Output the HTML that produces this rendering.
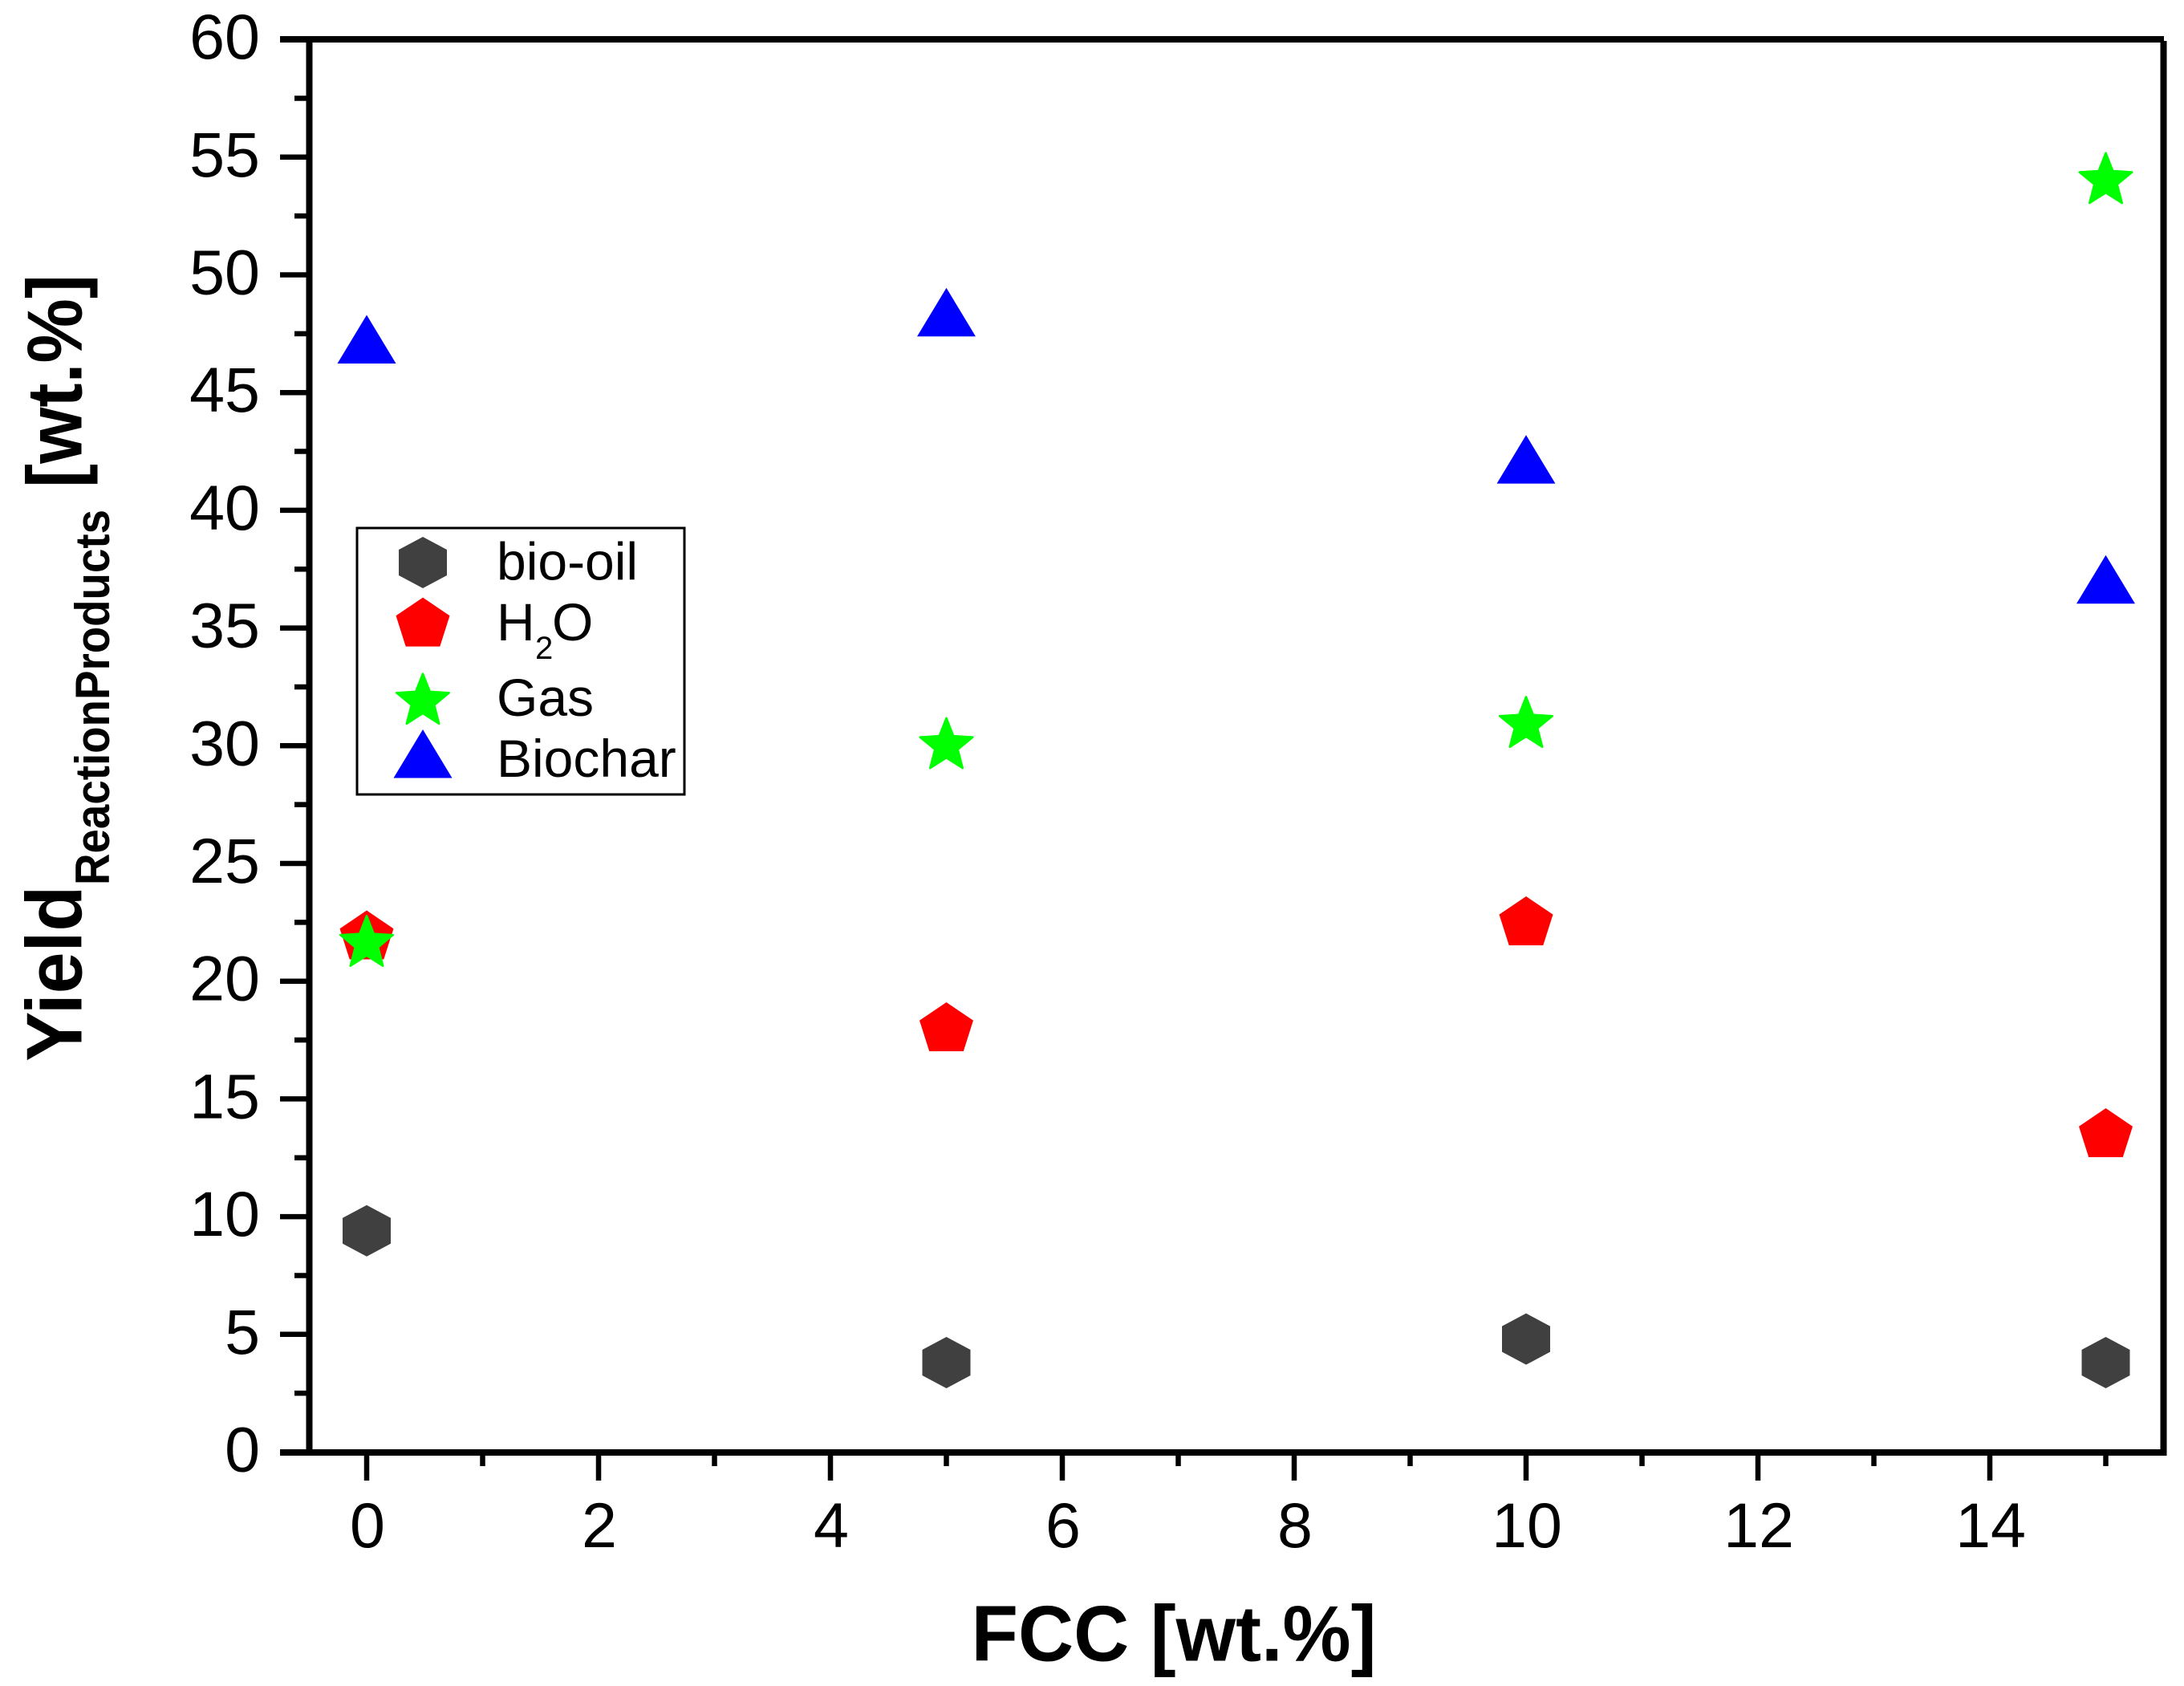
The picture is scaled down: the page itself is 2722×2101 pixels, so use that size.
<!DOCTYPE html>
<html lang="en">
<head>
<meta charset="utf-8">
<title>Yield of reaction products vs FCC</title>
<style>
html,body{margin:0;padding:0;background:#fff;}
svg{display:block;}
text{font-family:"Liberation Sans",sans-serif;fill:#000;}
</style>
</head>
<body>
<svg id="chart" xmlns="http://www.w3.org/2000/svg" width="2722" height="2101" viewBox="0 0 2722 2101">
  <rect x="0" y="0" width="2722" height="2101" fill="#ffffff"/>
  <g id="ticks"></g>
  <g id="frame" stroke="#000" stroke-width="8" fill="none">
    <line x1="349" y1="49" x2="2697" y2="49"/>
    <line x1="385.5" y1="45" x2="385.5" y2="1814"/>
    <line x1="349" y1="1810" x2="2700" y2="1810"/>
    <line x1="2696.5" y1="51" x2="2696.5" y2="1814"/>
  </g>
  <g id="marks"></g>
  <g id="tick-labels"></g>

  <text x="1210.5" y="2069.5" font-size="98" font-weight="700" textLength="505" lengthAdjust="spacingAndGlyphs">FCC [wt.%]</text>
  <g>
    <text transform="translate(101.7 1322.7) rotate(-90)" font-size="98" font-weight="700" textLength="219" lengthAdjust="spacingAndGlyphs">Yield</text>
    <text transform="translate(136 1103) rotate(-90)" font-size="60" font-weight="700" textLength="468" lengthAdjust="spacingAndGlyphs">ReactionProducts</text>
    <text transform="translate(101.7 608) rotate(-90)" font-size="97" font-weight="700" textLength="266" lengthAdjust="spacingAndGlyphs">[wt.%]</text>
  </g>

  <g id="legend">
    <rect x="445" y="658" width="408" height="332" fill="#fff" stroke="#000" stroke-width="3"/>
    <g id="legend-markers"></g>
    <text x="619" y="722.5" font-size="66">bio-oil</text>
    <text y="798" font-size="66"><tspan x="619">H</tspan><tspan x="667" y="821" font-size="40">2</tspan><tspan x="688" y="798">O</tspan></text>
    <text x="619" y="892" font-size="66">Gas</text>
    <text x="619" y="968" font-size="66">Biochar</text>
  </g>
</svg>
<script>
const xCategories = [0, 5, 10, 15];
const bioOilValues = [9.4, 3.8, 4.8, 3.8];
const waterValues = [21.9, 18, 22.5, 13.5];
const gasValues = [21.6, 30, 30.9, 54];
const biocharValues = [47, 48.15, 41.9, 36.8];
const xMajorTicks = [0, 2, 4, 6, 8, 10, 12, 14];
const xMinorTicks = [1, 3, 5, 7, 9, 11, 13, 15];
const yMajorTicks = [0, 5, 10, 15, 20, 25, 30, 35, 40, 45, 50, 55, 60];
const yMinorTicks = [2.5, 7.5, 12.5, 17.5, 22.5, 27.5, 32.5, 37.5, 42.5, 47.5, 52.5, 57.5];

const NS = 'http://www.w3.org/2000/svg';
function xAxis(v) { return 457 + v * 144.5; }
function yAxis(v) { return 1809.5 - v * 29.34; }

function tickLine(x1, y1, x2, y2) {
  const l = document.createElementNS(NS, 'line');
  l.setAttribute('x1', x1);
  l.setAttribute('y1', y1);
  l.setAttribute('x2', x2);
  l.setAttribute('y2', y2);
  l.setAttribute('stroke', '#000');
  l.setAttribute('stroke-width', '6.5');
  return l;
}
function tickText(str, x, y, anchor) {
  const t = document.createElementNS(NS, 'text');
  t.setAttribute('x', x);
  t.setAttribute('y', y);
  t.setAttribute('font-size', '79');
  t.setAttribute('text-anchor', anchor);
  t.textContent = str;
  return t;
}

const ticksG = document.getElementById('ticks');
const labelsG = document.getElementById('tick-labels');

xMajorTicks.forEach(function (v) {
  const l = tickLine(xAxis(v), 1810, xAxis(v), 1845);
  
  
  ticksG.appendChild(l);
  const t = tickText(String(v), xAxis(v) + 1, 1928, 'middle');
  
  
  labelsG.appendChild(t);
});
xMinorTicks.forEach(function (v) {
  const l = tickLine(xAxis(v), 1810, xAxis(v), 1827);
  
  
  ticksG.appendChild(l);
});
yMajorTicks.forEach(function (v) {
  const l = tickLine(349, yAxis(v), 385, yAxis(v));
  
  
  ticksG.appendChild(l);
  const t = tickText(String(v), 324, yAxis(v) + 24, 'end');
  
  
  labelsG.appendChild(t);
});
yMinorTicks.forEach(function (v) {
  const l = tickLine(367, yAxis(v), 385, yAxis(v));
  
  
  ticksG.appendChild(l);
});

function starOffsets() {
  const pts = [];
  for (let i = 0; i < 10; i++) {
    const r = i % 2 === 0 ? 34.5 : 15;
    const a = -Math.PI / 2 + i * Math.PI / 5;
    pts.push([r * Math.cos(a), r * Math.sin(a)]);
  }
  return pts;
}
const markerShapes = {
  hexagon: { fill: '#404040', pts: [[0, -32], [30, -16], [30, 16], [0, 32], [-30, 16], [-30, -16]] },
  pentagon: { fill: '#ff0000', pts: [[0, -32.4], [33.5, -9.7], [21.3, 28.6], [-21.3, 28.6], [-33.5, -9.7]] },
  star: { fill: '#00ff00', pts: starOffsets(), stroke: 2.5 },
  triangle: { fill: '#0000ff', pts: [[0, -38], [36.5, 22.5], [-36.5, 22.5]] }
};
function marker(shape, cx, cy) {
  const s = markerShapes[shape];
  const p = document.createElementNS(NS, 'polygon');
  p.setAttribute('points', s.pts.map(function (o) { return (cx + o[0]).toFixed(2) + ',' + (cy + o[1]).toFixed(2); }).join(' '));
  p.setAttribute('fill', s.fill);
  if (s.stroke) {
    p.setAttribute('stroke', s.fill);
    p.setAttribute('stroke-width', s.stroke);
    p.setAttribute('stroke-linejoin', 'round');
  }
  return p;
}

const marksG = document.getElementById('marks');
bioOilValues.forEach(function (v, i) {
  const m = marker('hexagon', xAxis(xCategories[i]), yAxis(v));
  
  
  marksG.appendChild(m);
});
waterValues.forEach(function (v, i) {
  const m = marker('pentagon', xAxis(xCategories[i]), yAxis(v));
  
  
  marksG.appendChild(m);
});
gasValues.forEach(function (v, i) {
  const m = marker('star', xAxis(xCategories[i]), yAxis(v));
  
  
  marksG.appendChild(m);
});
biocharValues.forEach(function (v, i) {
  const m = marker('triangle', xAxis(xCategories[i]), yAxis(v));
  
  
  marksG.appendChild(m);
});

const legendG = document.getElementById('legend-markers');
const legendHex = marker('hexagon', 527, 701);


legendG.appendChild(legendHex);
const legendPent = marker('pentagon', 527, 777);


legendG.appendChild(legendPent);
const legendStar = marker('star', 527, 874);


legendG.appendChild(legendStar);
const legendTri = marker('triangle', 527, 947);


legendG.appendChild(legendTri);
</script>
</body>
</html>
